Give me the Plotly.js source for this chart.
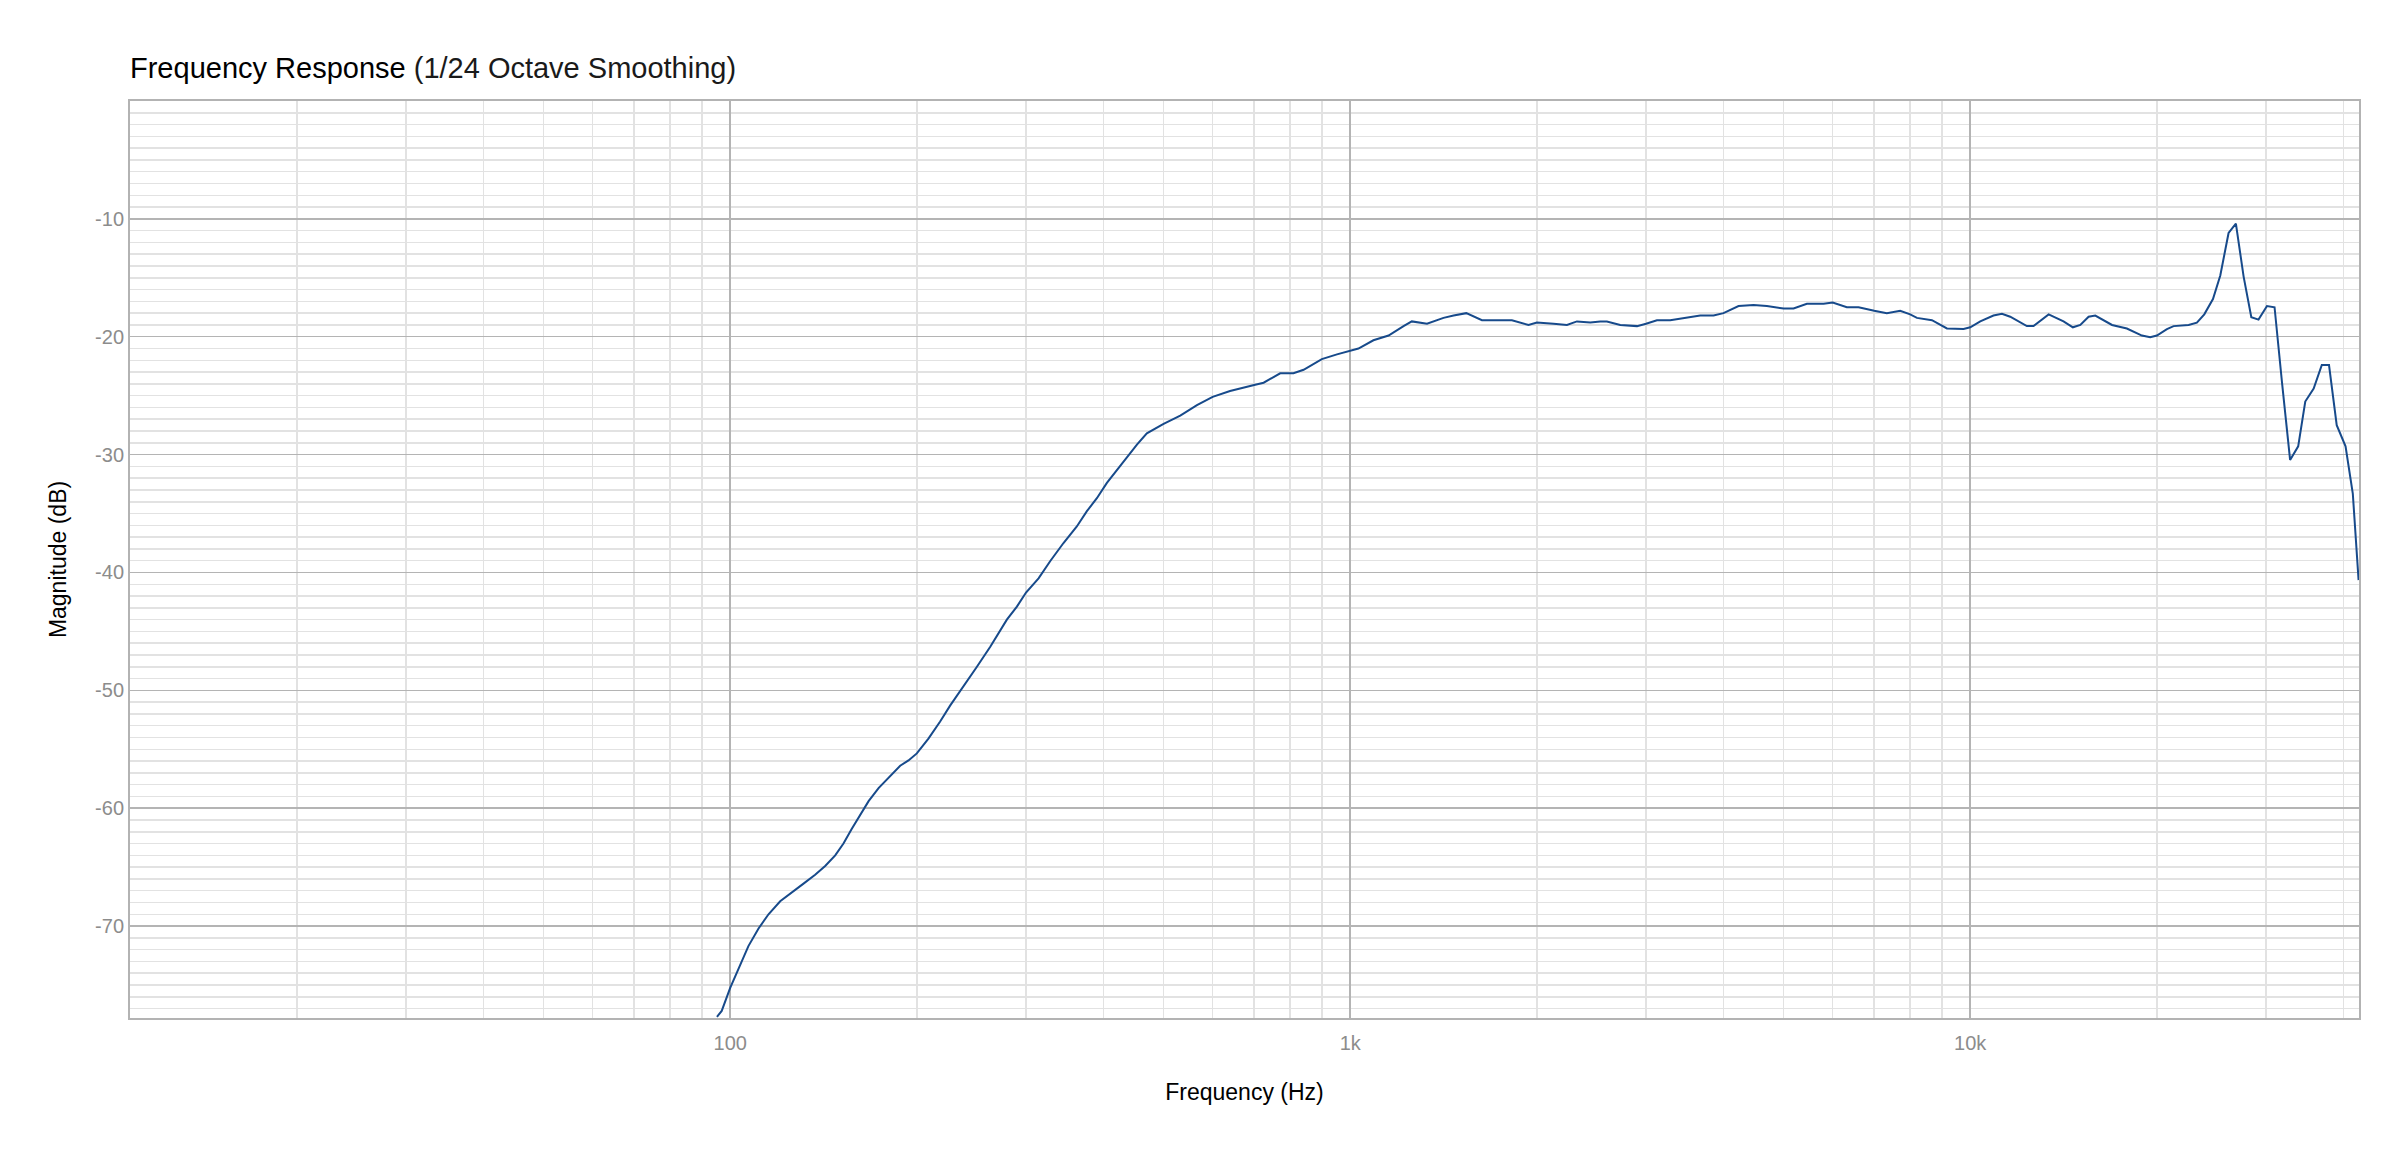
<!DOCTYPE html>
<html>
<head>
<meta charset="utf-8">
<script src="https://cdn.plot.ly/plotly-3.0.1.min.js"></script>
<style>
  html, body { margin: 0; padding: 0; background: #ffffff; }
  #freqDiv { width: 2400px; height: 1158px; }
</style>
</head>
<body>
<div id="freqDiv"></div>
<script>
// frequency points (Hz)
var freqHz = [
  95.2, 96.9, 100, 103.8, 107, 111.1, 115.3, 120.4, 125.8, 131.3, 137.1, 142.3, 147.7, 152.3,
  157.1, 162.1, 167.2, 173.5, 180.1, 188, 193.9, 200, 208.8, 218.1, 226.3, 237.8, 250, 262.7,
  272.6, 279.4, 290, 300, 314.3, 328.1, 344.8, 362.3, 376.1, 390.3, 405.1, 420.4, 436.3, 452.9,
  469.9, 500, 532, 566, 600, 640, 700, 725, 771, 810, 841, 900, 952, 1000, 1031, 1090, 1153,
  1219, 1257, 1330, 1414, 1468, 1539, 1631, 1724, 1823, 1939, 2000, 2128, 2236, 2321, 2439,
  2531, 2594, 2726, 2901, 3000, 3124, 3282, 3449, 3669, 3855, 4000, 4230, 4472, 4699, 4877,
  5000, 5188, 5452, 5800, 6000, 6324, 6605, 7000, 7336, 7710, 8000, 8204, 8674, 9171,
  9755, 10000, 10380, 10900, 11250, 11600, 12340, 12650, 13380, 14140, 14640, 15050,
  15520, 15910, 16930, 17890, 18920, 19510, 20000, 20760, 21280, 22500, 23200, 23850,
  24630, 25310, 26100, 26820, 27600, 28400, 29170, 30100, 30960, 31830, 32800, 33800,
  34700, 35800, 36900, 37900, 39000, 40300, 41400, 42300
];

// magnitude (dB) at each frequency
var magDb = [
  -77.7, -77.2, -75.25, -73.3, -71.7, -70.2, -69.0, -67.9, -67.1, -66.4, -65.65, -64.9, -64.0, -63.0,
  -61.75, -60.6, -59.4, -58.3, -57.4, -56.4, -55.95, -55.35, -54.1, -52.65, -51.3, -49.7, -48.0, -46.3,
  -44.85, -44.0, -42.9, -41.7, -40.5, -39.05, -37.5, -36.1, -34.8, -33.7, -32.4, -31.3, -30.3, -29.15,
  -28.2, -27.4, -26.7, -25.8, -25.1, -24.6, -24.1, -23.9, -23.1, -23.1, -22.8, -21.9, -21.5, -21.2, -21.0, -20.3, -19.9,
  -19.1, -18.7, -18.9, -18.4, -18.2, -18.0, -18.6, -18.6, -18.6, -19.0, -18.8, -18.9, -19.0, -18.7, -18.8,
  -18.7, -18.7, -19.0, -19.1, -18.9, -18.6, -18.6, -18.4, -18.2, -18.2, -18.0, -17.4, -17.3, -17.4, -17.5,
  -17.6, -17.6, -17.2, -17.2, -17.1, -17.5, -17.5, -17.8, -18.0, -17.8, -18.1, -18.4, -18.6, -19.3,
  -19.35, -19.2, -18.7, -18.2, -18.05, -18.3, -19.1, -19.1, -18.1, -18.7, -19.2, -19.0,
  -18.3, -18.2, -19.0, -19.3, -19.9, -20.05, -19.9, -19.35, -19.1, -19.0, -18.8, -18.1,
  -16.8, -14.8, -11.2, -10.4, -14.9, -18.35, -18.55, -17.4, -17.5, -23.9, -30.45, -29.3,
  -25.5, -24.4, -22.4, -22.4, -27.5, -29.3, -33.3, -40.65
];

// axis ticks
var xTickVals = [100, 1000, 10000];
var xTickText = ["100", "1k", "10k"];
var yTickVals = [-70, -60, -50, -40, -30, -20, -10];
var yTickText = ["-70", "-60", "-50", "-40", "-30", "-20", "-10"];

var fontFam = "Liberation Sans, Arial, sans-serif";
var tickGray = "#8c8c8c";

var data = [{
  x: freqHz,
  y: magDb,
  type: "scatter",
  mode: "lines",
  line: { color: "#174a8b", width: 2 },
  hoverinfo: "x+y"
}];

var layout = {
  width: 2400,
  height: 1158,
  margin: { l: 130, r: 41, t: 101, b: 140, pad: 0 },
  paper_bgcolor: "#ffffff",
  plot_bgcolor: "#ffffff",
  showlegend: false,
  font: { family: fontFam, color: "#000000" },
  title: {
    text: "Frequency Response <span style=\"color:#1a1a1a\">(1/24 Octave Smoothing)</span>",
    font: { family: fontFam, size: 29, color: "#000000" },
    xref: "paper",
    x: 0,
    xanchor: "left",
    yref: "container",
    y: 0.941,
    yanchor: "middle"
  },
  xaxis: {
    type: "log",
    range: [1.032, 4.627],
    tickmode: "array",
    tickvals: xTickVals,
    ticktext: xTickText,
    ticks: "",
    ticklabelstandoff: 6,
    tickfont: { family: fontFam, size: 20, color: tickGray },
    showgrid: true,
    gridcolor: "#b4b4b4",
    gridwidth: 1.5,
    minor: { dtick: "D1", showgrid: true, gridcolor: "#e2e2e2", gridwidth: 1.5 },
    showline: true,
    mirror: true,
    linecolor: "#b3b3b3",
    linewidth: 2,
    zeroline: false,
    automargin: false,
    title: {
      text: "Frequency (Hz)",
      font: { family: fontFam, size: 23, color: "#000000" },
      standoff: 31
    }
  },
  yaxis: {
    range: [-77.8, 0],
    tickmode: "array",
    tickvals: yTickVals,
    ticktext: yTickText,
    ticks: "",
    tickfont: { family: fontFam, size: 20, color: tickGray },
    showgrid: true,
    gridcolor: "#b4b4b4",
    gridwidth: 1.5,
    minor: { tickmode: "linear", tick0: 0, dtick: 1, showgrid: true, gridcolor: "#e2e2e2", gridwidth: 1.5 },
    showline: true,
    mirror: true,
    linecolor: "#b3b3b3",
    linewidth: 2,
    zeroline: false,
    automargin: false,
    title: {
      text: "Magnitude (dB)",
      font: { family: fontFam, size: 23, color: "#000000" },
      standoff: 22
    }
  }
};

Plotly.newPlot("freqDiv", data, layout, { displayModeBar: false, staticPlot: true });
</script>
</body>
</html>
